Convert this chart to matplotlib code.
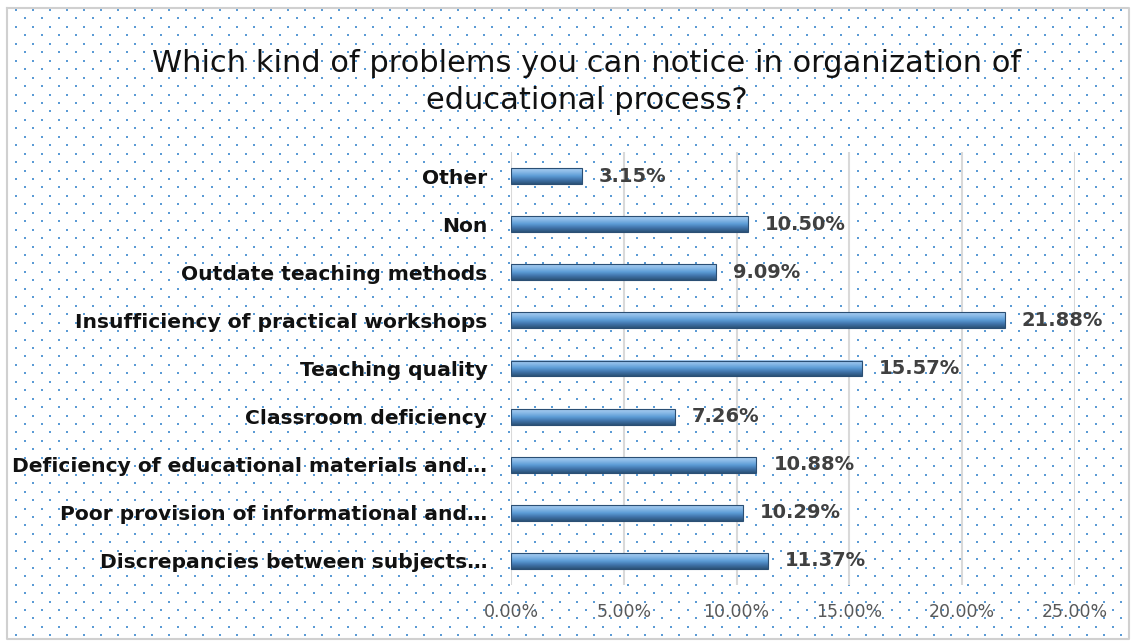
import numpy as np
import matplotlib
matplotlib.use("Agg")
import matplotlib.pyplot as plt
from matplotlib.colors import LinearSegmentedColormap

title = "Which kind of problems you can notice in organization of\neducational process?"
categories = [
    "Discrepancies between subjects…",
    "Poor provision of informational and…",
    "Deficiency of educational materials and…",
    "Classroom deficiency",
    "Teaching quality",
    "Insufficiency of practical workshops",
    "Outdate teaching methods",
    "Non",
    "Other",
]
values = [11.37, 10.29, 10.88, 7.26, 15.57, 21.88, 9.09, 10.50, 3.15]
xticks = [0, 5, 10, 15, 20, 25]

plt.rcParams['font.family'] = ['DejaVu Sans']

W, H = 1132, 641
fig = plt.figure(figsize=(W / 100, H / 100), dpi=100)
fig.patch.set_facecolor('white')

# background dotted pattern
bg = fig.add_axes([0, 0, 1, 1])
bg.set_xlim(0, W)
bg.set_ylim(H, 0)
bg.axis('off')
xs, ys = [], []
row = 0
y = 10.0
while y < H - 4:
    x0 = 16.0 if row % 2 == 0 else 24.5
    x = x0
    while x < W - 4:
        xs.append(x)
        ys.append(y)
        x += 17.0
    y += 8.45
    row += 1
bg.scatter(xs, ys, s=4.0, c='#5B9BD5', marker='s', linewidths=0, zorder=1)
bg.plot([7, W - 3, W - 3, 7, 7], [8, 8, H - 2, H - 2, 8], color='#D0D0D0', lw=1.5, zorder=2)

# title
fig.text(0.518, 1 - 82 / H, title, ha='center', va='center', fontsize=22,
         color='#111111', linespacing=1.35)

ax = fig.add_axes([511 / W, 56 / H, 564 / W, 433 / H])
ax.patch.set_alpha(0)
ypos = np.arange(len(categories))
bh = 0.33
ax.set_xlim(0, 25)
ax.set_ylim(-0.5, len(categories) - 0.5)

cmap = LinearSegmentedColormap.from_list(
    'bar', ['#2C5278', '#3F72A8', '#5B9BD5', '#86B8E6', '#A9CDF0'])
grad = np.linspace(0, 1, 64).reshape(-1, 1)
for yi, v in zip(ypos, values):
    ax.imshow(grad, cmap=cmap, aspect='auto', origin='lower',
              extent=(0, v, yi - bh / 2, yi + bh / 2), zorder=3)
    ax.barh(yi, v, height=bh, facecolor='none', edgecolor='#2B4F74', lw=0.8, zorder=4)
    ax.text(v + 0.75, yi, f"{v:.2f}%", va='center', ha='left', fontsize=14,
            fontweight='bold', color='#404040', zorder=5)

ax.set_yticks(ypos)
ax.set_yticklabels(categories, fontsize=14.6, fontweight='bold', color='#111111')
ax.set_xticks(xticks)
ax.set_xticklabels([f"{t:.2f}%" for t in xticks], fontsize=12.5, color='#595959')
ax.tick_params(axis='y', length=0, pad=17)
ax.tick_params(axis='x', length=0, pad=13)
ax.grid(axis='x', color='#D9D9D9', lw=1.5, zorder=0)
ax.set_axisbelow(True)
for s in ax.spines.values():
    s.set_visible(False)

fig.savefig('out.png', dpi=100, facecolor='white')
